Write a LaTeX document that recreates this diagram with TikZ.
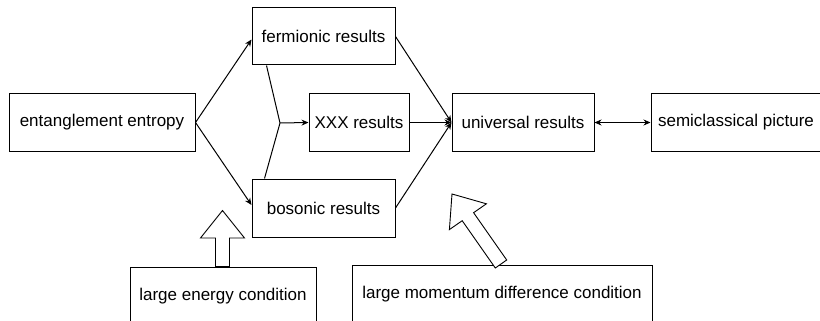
\documentclass[tikz,border=0pt]{standalone}
\usepackage{fontspec}
\setmainfont{Liberation Sans}
\usetikzlibrary{arrows.meta,calc}
\begin{document}
\begin{tikzpicture}[x=1pt,y=-1pt,
  box/.style={draw,line width=1pt,rectangle,inner sep=0pt,minimum height=57pt,font=\fontsize{17}{20}\selectfont},
  conn/.style={line width=1pt,-{Stealth[length=7pt,width=6pt]}},
  plain/.style={line width=1pt},
  blockarrow/.style={draw,line width=0.9pt,fill=white,line join=miter}]
\useasboundingbox (0,0) rectangle (820,321);
\clip (0,0) rectangle (820,321);
\node[box,minimum width=186pt] (ee) at (102,122.5) {entanglement entropy};
\node[box,minimum width=143pt] (fer) at (323.5,36.5) {fermionic results};
\node[box,minimum width=100pt] (xxx) at (359,122.5) {XXX results};
\node[box,minimum width=142pt] (uni) at (523,122.5) {universal results};
\node[box,minimum width=170pt] (semi) at (736,122.5) {semiclassical picture};
\node[box,minimum width=143pt,minimum height=58pt] (bos) at (323.5,208) {bosonic results};
\node[box,minimum width=186pt,minimum height=58pt] (lec) at (223,296) {large energy condition};
\node[box,minimum width=300pt,minimum height=58pt] (lmdc) at (502,294) {large momentum difference condition};
\coordinate (j) at (280,123);
\draw[conn] (ee.east) -- ($(fer.west)+(0,3)$);
\draw[conn] (ee.east) -- ($(bos.west)+(0,-3)$);
\draw[plain] ($(fer.south west)+(15,0)$) -- (j);
\draw[plain] ($(bos.north west)+(13,0)$) -- (j);
\draw[conn] (j) -- (xxx.west);
\draw[conn] (fer.east) -- (uni.west);
\draw[conn] (xxx.east) -- (uni.west);
\draw[conn] (bos.east) -- (uni.west);
\draw[line width=1pt,{Stealth[length=7pt,width=6pt]}-{Stealth[length=7pt,width=6pt]}] (uni.east) -- (semi.west);
% block arrows
\draw[blockarrow] (215.5,266.5) -- (215.5,238) -- (200.5,238) -- (222.5,210.5) -- (244.5,238) -- (229.5,238) -- (229.5,266.5) -- cycle;
\draw[blockarrow] (495.3,268.0) -- (462.2,220.7) -- (449.4,229.6) -- (452,194) -- (486.4,203.8) -- (473.6,212.7) -- (506.7,260.0) -- cycle;
\end{tikzpicture}
\end{document}
